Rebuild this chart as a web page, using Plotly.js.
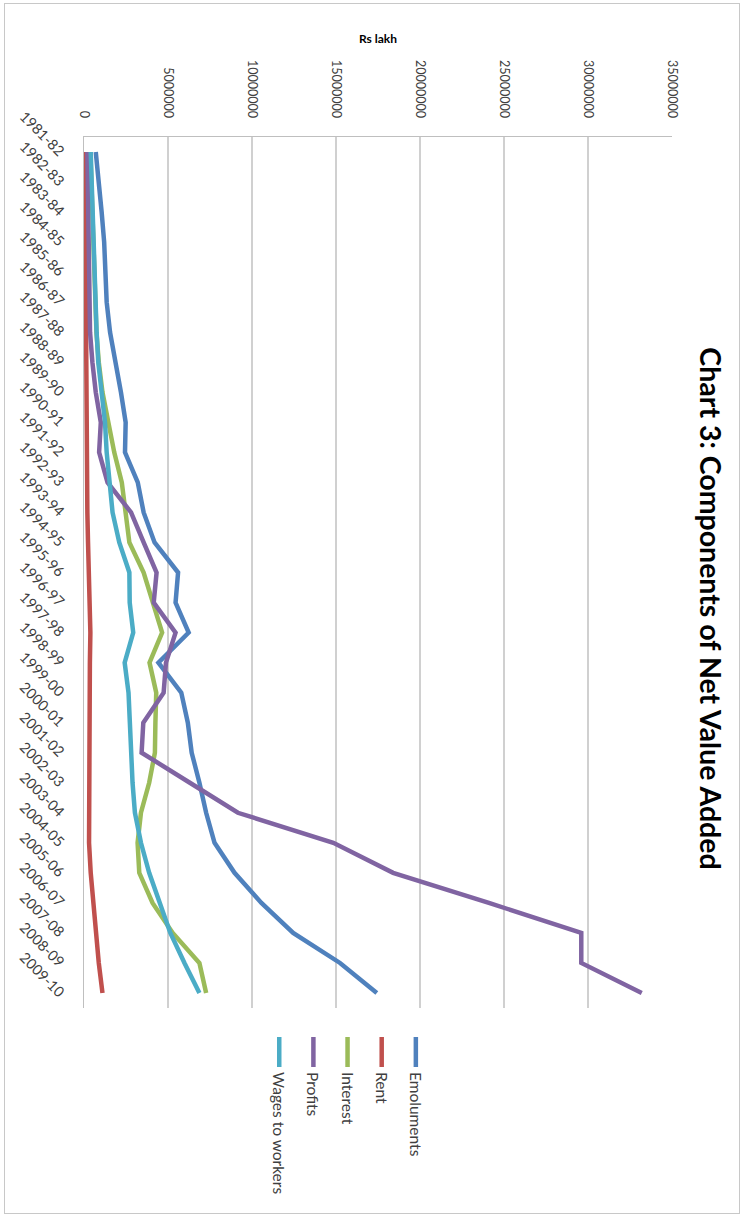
<!DOCTYPE html>
<html><head><meta charset="utf-8">
<script src="https://cdn.plot.ly/plotly-3.0.1.min.js"></script>
<style>
html,body{margin:0;padding:0;background:#fff;overflow:hidden;width:743px;height:1217px;}
#wrap{position:absolute;left:0;top:0;width:1217px;height:743px;transform-origin:0 0;transform:translate(743px,0) rotate(90deg);}
#frame{position:absolute;left:3px;top:3px;width:1211px;height:736px;border:1.5px solid #c8c8c8;box-sizing:border-box;}
#chart{position:absolute;left:0;top:0;width:1217px;height:743px;}
</style></head>
<body>
<div id="wrap"><div id="frame"></div><div id="chart"></div></div>
<script>
var categories = ["1981-82","1982-83","1983-84","1984-85","1985-86","1986-87","1987-88","1988-89","1989-90","1990-91","1991-92","1992-93","1993-94","1994-95","1995-96","1996-97","1997-98","1998-99","1999-00","2000-01","2001-02","2002-03","2003-04","2004-05","2005-06","2006-07","2007-08","2008-09","2009-10"];

var emoluments = [700000, 900000, 1050000, 1200000, 1300000, 1350000, 1550000, 1900000, 2200000, 2480000, 2440000, 3200000, 3550000, 4200000, 5600000, 5450000, 6230000, 4430000, 5790000, 6180000, 6410000, 6870000, 7270000, 7770000, 8960000, 10560000, 12450000, 15240000, 17430000];
var rent = [50000, 60000, 70000, 80000, 90000, 100000, 100000, 110000, 120000, 130000, 140000, 160000, 200000, 240000, 300000, 360000, 380000, 350000, 340000, 330000, 300000, 280000, 280000, 300000, 400000, 550000, 700000, 880000, 1100000];
var interest = [380000, 430000, 480000, 530000, 580000, 640000, 740000, 880000, 1100000, 1450000, 1800000, 2250000, 2450000, 2700000, 3550000, 4100000, 4650000, 3900000, 4300000, 4250000, 4220000, 3880000, 3390000, 3190000, 3290000, 4080000, 5280000, 6870000, 7270000];
var profits = [200000, 220000, 240000, 250000, 270000, 300000, 360000, 500000, 700000, 1000000, 900000, 1400000, 2800000, 3550000, 4320000, 4150000, 5450000, 4880000, 4740000, 3530000, 3430000, 6300000, 9160000, 14840000, 18400000, 24100000, 29600000, 29600000, 33200000];
var wages = [400000, 450000, 500000, 550000, 600000, 650000, 750000, 850000, 1050000, 1250000, 1350000, 1500000, 1700000, 2100000, 2700000, 2720000, 2930000, 2420000, 2650000, 2730000, 2790000, 2890000, 3030000, 3390000, 3880000, 4480000, 5140000, 5980000, 6870000];

var seriesNames = ["Emoluments", "Rent", "Interest", "Profits", "Wages to workers"];
var seriesValues = [emoluments, rent, interest, profits, wages];
var seriesColors = ["#4F81BD", "#C0504D", "#9BBB59", "#8064A2", "#4BACC6"];

var FONT = "Lato, 'Open Sans', sans-serif";

var traces = seriesNames.map(function(n, i){
  return {
    type: 'scatter', mode: 'lines', name: n, legendgroup: 'g' + i,
    x: categories, y: seriesValues[i],
    line: {color: seriesColors[i], width: 4.5}
  };
});

var layout = {
  width: 1217, height: 743,
  margin: {l: 137, r: 209, t: 71, b: 84},
  paper_bgcolor: 'rgba(0,0,0,0)', plot_bgcolor: 'rgba(0,0,0,0)',
  showlegend: true,
  title: {text: '<b>Chart 3: Components of Net Value Added</b>', font: {family: FONT, size: 28.5, color: '#000'},
          x: 0.5, xref: 'container', xanchor: 'center', y: 0.9556, yref: 'container', yanchor: 'middle'},
  xaxis: {type: 'category', tickangle: -45, tickfont: {family: FONT, size: 14.5, color: '#404040'},
          showline: true, linecolor: '#bfbfbf', linewidth: 1.5, showgrid: false, ticks: '', ticklabelstandoff: 9,
          range: [-0.5, 28.5], fixedrange: true},
  yaxis: {range: [0, 35000000], tick0: 0, dtick: 5000000, tickformat: 'd',
          showgrid: true, gridcolor: '#d0d0d0', gridwidth: 1.5, zeroline: false,
          showline: true, linecolor: '#bfbfbf', linewidth: 1.5, ticks: '', ticklabelstandoff: 15,
          tickfont: {family: FONT, size: 12.5, color: '#404040'},
          title: {text: '<b>Rs lakh</b>', font: {family: FONT, size: 12, color: '#000'}, standoff: 14}},
  legend: {x: 1.0276, xanchor: 'left', y: 0.448, yanchor: 'middle', traceorder: 'grouped', tracegroupgap: 11,
           font: {family: FONT, size: 15.5, color: '#404040'}, bgcolor: 'rgba(0,0,0,0)'}
};

Plotly.newPlot('chart', traces, layout, {staticPlot: true, displayModeBar: false});
</script>
</body></html>
